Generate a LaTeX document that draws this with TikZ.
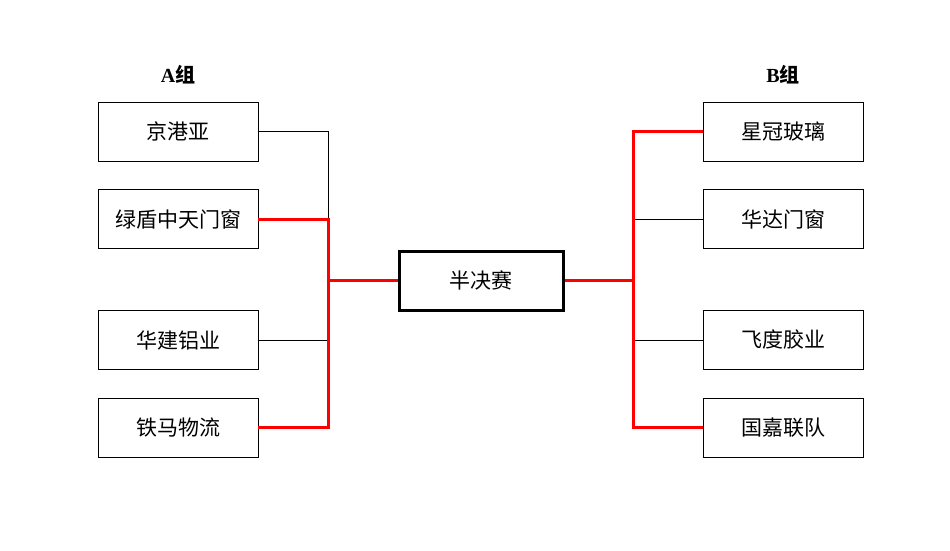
\documentclass[tikz,border=0pt]{standalone}
\usepackage{fontspec}
\setmainfont{Liberation Serif}
\newfontfamily\cjk{Noto Sans CJK SC}
\usetikzlibrary{positioning}
\tikzset{
  team/.style={draw, line width=0.9pt, minimum width=160pt, minimum height=59pt, inner sep=0pt, font=\cjk\fontsize{21}{25}\selectfont},
  final/.style={draw, line width=3pt, minimum width=164pt, minimum height=59pt, inner sep=0pt, font=\cjk\fontsize{21}{25}\selectfont},
  group/.style={font=\bfseries\fontsize{20}{24}\selectfont},
  loseline/.style={line width=0.9pt, black},
  winline/.style={line width=3pt, red, line join=miter}
}
\begin{document}
\begin{tikzpicture}[x=1pt, y=-1pt]
    \useasboundingbox (0,0) rectangle (950,551);
    % group titles
    \node[group] (ga) at (178,75) {A\cjk 组};
    \node[group] (gb) at (783,75) {B\cjk 组};
    % left side
    \node[team] (l1) at (178,131.5) {京港亚};
    \node[team] (l2) at (178,219) {绿盾中天门窗};
    \node[team] (l3) at (178,340) {华建铝业};
    \node[team] (l4) at (178,427.5) {铁马物流};
    % right side
    \node[team] (r1) at (783,131.5) {星冠玻璃};
    \node[team] (r2) at (783,219) {华达门窗};
    \node[team] (r3) at (783,340) {飞度胶业};
    \node[team] (r4) at (783,427.5) {国嘉联队};
    % centre
    \node[final] (semi) at (481,280.5) {半决赛};
    \coordinate (lj) at (328,280.5);
    \coordinate (rj) at (633,280.5);
    % left bracket
    \draw[loseline] (l1.east) -| (l2.east -| lj);
    \draw[loseline] (l3.east) -- (l3.east -| lj);
    \draw[winline] (l2.east) -- (l2.east -| lj) -- (l4.east -| lj) -- (l4.east);
    \draw[winline] (lj) -- (semi.west);
    % right bracket
    \draw[loseline] (r2.west) -- (r2.west -| rj);
    \draw[loseline] (r3.west) -- (r3.west -| rj);
    \draw[winline] (r1.west) -- (r1.west -| rj) -- (r4.west -| rj) -- (r4.west);
    \draw[winline] (rj) -- (semi.east);
\end{tikzpicture}
\end{document}
